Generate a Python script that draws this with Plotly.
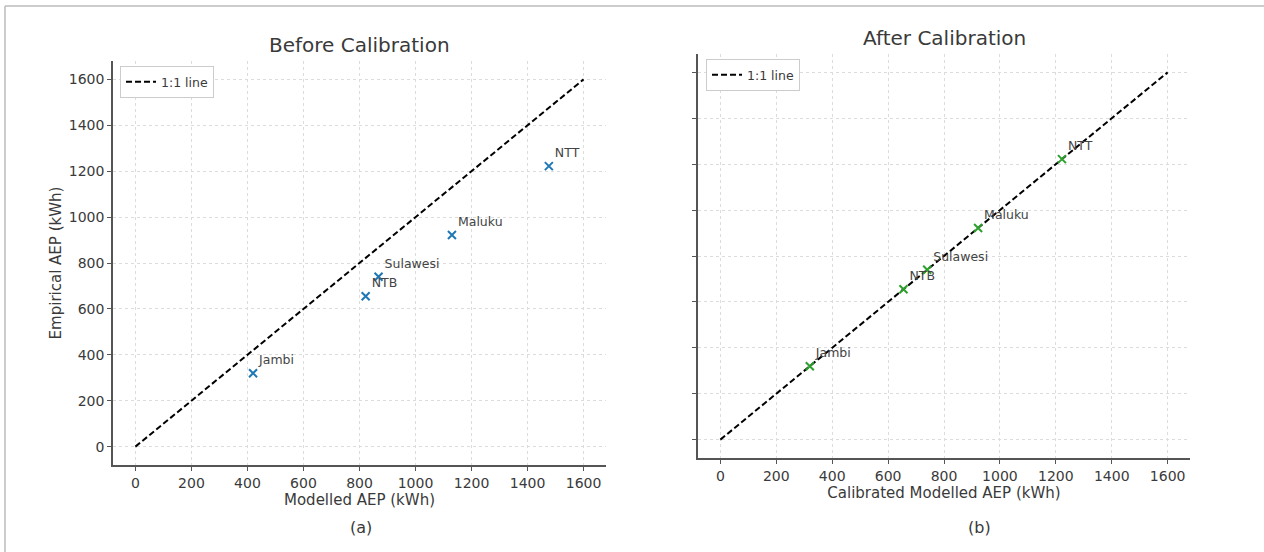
import plotly.graph_objects as go

regions = ["Jambi", "NTB", "Sulawesi", "Maluku", "NTT"]
modelled_aep = [420, 822, 868, 1130, 1476]
empirical_aep = [320, 655, 740, 922, 1222]
calibrated_aep = [320, 655, 740, 922, 1222]
line_1to1 = [0, 1600]
tick_vals = [0, 200, 400, 600, 800, 1000, 1200, 1400, 1600]
tick_text = [str(v) for v in tick_vals]

W, H = 1264, 552
FONT = "DejaVu Sans"
TXT = "#3a3a3a"

def px_x(x):
    return x / W

def px_y(y):
    return 1 - y / H

fig = go.Figure()

# Left: before calibration
fig.add_trace(go.Scatter(x=line_1to1, y=line_1to1, mode="lines", name="1:1 line",
                         line=dict(color="black", width=2, dash="6px,3px"),
                         xaxis="x", yaxis="y", legend="legend"))
fig.add_trace(go.Scatter(x=modelled_aep, y=empirical_aep, mode="markers+text",
                         text=regions, textposition="top right",
                         textfont=dict(family=FONT, size=12.5, color="#444"),
                         marker=dict(symbol="x-thin", size=8, line=dict(color="#1f77b4", width=2)),
                         showlegend=False, xaxis="x", yaxis="y"))

# Right: after calibration
fig.add_trace(go.Scatter(x=line_1to1, y=line_1to1, mode="lines", name="1:1 line",
                         line=dict(color="black", width=2, dash="6px,3px"),
                         xaxis="x2", yaxis="y2", legend="legend2"))
fig.add_trace(go.Scatter(x=calibrated_aep, y=empirical_aep, mode="markers+text",
                         text=regions, textposition="top right",
                         textfont=dict(family=FONT, size=12.5, color="#444"),
                         marker=dict(symbol="x-thin", size=8, line=dict(color="#2ca02c", width=2)),
                         showlegend=False, xaxis="x2", yaxis="y2"))

axis_common = dict(
    range=[-80, 1680], tickvals=tick_vals, ticktext=tick_text,
    showgrid=True, gridcolor="#dcdcdc", griddash="dot", gridwidth=1,
    zeroline=False, showline=True, linecolor="#555", linewidth=1.5,
    ticks="outside", ticklen=4, tickcolor="#555", tickwidth=1,
    tickfont=dict(family=FONT, size=14, color=TXT),
    mirror=False,
)

fig.update_layout(
    width=W, height=H,
    margin=dict(l=0, r=0, t=0, b=0),
    paper_bgcolor="white", plot_bgcolor="white",
    font=dict(family=FONT, color=TXT),
    xaxis=dict(domain=[px_x(113), px_x(606)], anchor="y",
               title=dict(text="Modelled AEP (kWh)", font=dict(family=FONT, size=15, color=TXT), standoff=2),
               **axis_common),
    yaxis=dict(domain=[px_y(465), px_y(61)], anchor="x",
               title=dict(text="Empirical AEP (kWh)", font=dict(family=FONT, size=15, color=TXT), standoff=4),
               **axis_common),
    xaxis2=dict(domain=[px_x(698), px_x(1190)], anchor="y2",
                title=dict(text="Calibrated Modelled AEP (kWh)", font=dict(family=FONT, size=15, color=TXT), standoff=2),
                **axis_common),
    yaxis2=dict(domain=[px_y(458), px_y(54)], anchor="x2", showticklabels=False,
                **axis_common),
    legend=dict(x=px_x(120), y=px_y(66), xanchor="left", yanchor="top",
                bgcolor="white", bordercolor="#cccccc", borderwidth=1,
                font=dict(family=FONT, size=12.5, color=TXT),
                itemwidth=30, tracegroupgap=0),
    legend2=dict(x=px_x(706), y=px_y(59), xanchor="left", yanchor="top",
                 bgcolor="white", bordercolor="#cccccc", borderwidth=1,
                 font=dict(family=FONT, size=12.5, color=TXT),
                 itemwidth=30, tracegroupgap=0),
    annotations=[
        dict(text="Before Calibration", x=px_x(359.5), y=px_y(45), xref="paper", yref="paper",
             xanchor="center", yanchor="middle",
             showarrow=False, font=dict(family=FONT, size=20, color=TXT)),
        dict(text="After Calibration", x=px_x(944), y=px_y(38), xref="paper", yref="paper",
             xanchor="center", yanchor="middle",
             showarrow=False, font=dict(family=FONT, size=20, color=TXT)),
        dict(text="(a)", x=px_x(361), y=px_y(527), xref="paper", yref="paper",
             xanchor="center", yanchor="middle",
             showarrow=False, font=dict(family=FONT, size=16, color=TXT)),
        dict(text="(b)", x=px_x(979), y=px_y(527), xref="paper", yref="paper",
             xanchor="center", yanchor="middle",
             showarrow=False, font=dict(family=FONT, size=16, color=TXT)),
    ],
    shapes=[
        dict(type="line", xref="paper", yref="paper", x0=px_x(5), x1=1, y0=px_y(6), y1=px_y(6),
             line=dict(color="#bbbbbb", width=1.5)),
        dict(type="line", xref="paper", yref="paper", x0=px_x(5), x1=px_x(5), y0=0, y1=px_y(6),
             line=dict(color="#bbbbbb", width=1.5)),
    ],
)

fig.write_html("out.html")
